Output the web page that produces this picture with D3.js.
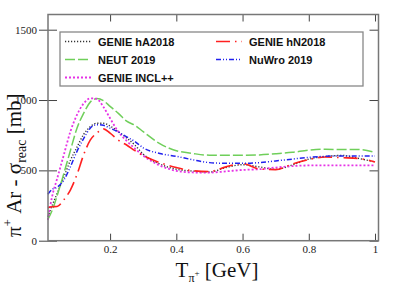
<!DOCTYPE html>
<html>
<head>
<meta charset="utf-8">
<script src="https://cdn.jsdelivr.net/npm/d3@7"></script>
<style>
  body { margin: 0; background: #fff; }
  svg { display: block; }
</style>
</head>
<body>
<div id="chart"></div>
<script>
// kinetic energy grid [GeV]
const energy = [0.012, 0.025, 0.04, 0.06, 0.08, 0.10, 0.12, 0.14, 0.16, 0.18, 0.20, 0.225, 0.25, 0.275, 0.30,
                0.35, 0.40, 0.45, 0.50, 0.55, 0.60, 0.65, 0.70, 0.75, 0.80, 0.85, 0.90, 0.95, 1.00];

const genieHA = [170, 250, 335, 450, 570, 665, 755, 810, 835, 835, 815, 775, 730, 680, 615,
                 545, 508, 495, 488, 520, 540, 525, 507, 538, 580, 598, 606, 585, 560];
const neut = [150, 215, 320, 475, 640, 800, 905, 985, 1010, 995, 955, 905, 850, 820, 775,
              690, 640, 620, 608, 608, 608, 610, 618, 628, 643, 650, 648, 648, 628];
const genieINCL = [147, 315, 440, 608, 775, 895, 975, 1012, 1008, 950, 870, 774, 710, 655, 605,
                   535, 497, 485, 484, 493, 503, 508, 520, 530, 535, 535, 535, 535, 535];
const genieHN = [235, 241, 243, 290, 360, 470, 610, 715, 765, 795, 765, 715, 680, 640, 605,
                 555, 520, 497, 492, 525, 548, 510, 505, 545, 577, 595, 590, 585, 560];
const nuwro = [330, 365, 380, 430, 525, 635, 725, 800, 825, 820, 800, 772, 738, 705, 660,
               620, 600, 575, 555, 550, 550, 555, 567, 580, 592, 600, 603, 603, 603];

const xTicks = [0.2, 0.4, 0.6, 0.8, 1];
const yTicks = [0, 500, 1000, 1500];

const series = [
  {name: "GENIE hA2018", y: genieHA, color: "#333", dash: "1.2,1.8", width: 1.4, col: 0, row: 0},
  {name: "NEUT 2019", y: neut, color: "#6fcf5a", dash: "10,3", width: 1.5, col: 0, row: 1},
  {name: "GENIE INCL++", y: genieINCL, color: "#e633e6", dash: "2,2", width: 1.8, col: 0, row: 2},
  {name: "GENIE hN2018", y: genieHN, color: "#ff2020", dash: "14,5,1.5,5", width: 1.6, col: 1, row: 0},
  {name: "NuWro 2019", y: nuwro, color: "#2020ee", dash: "5,2,1,2,1,2", width: 1.5, col: 1, row: 1}
];

const w = 399, h = 287;
const padL = 48, padR = 378.5, padT = 14.5, padB = 240.7;

const svg = d3.select("#chart").append("svg")
  .attr("width", w).attr("height", h);

const x = d3.scaleLinear().domain([0.0125, 1.0105]).range([padL, padR]);
const y = d3.scaleLinear().domain([0, 1608]).range([padB, padT]);

// curves
const line = d3.line()
  .x((d, i) => x(energy[i]))
  .y(d => y(d))
  .curve(d3.curveMonotoneX);

series.forEach(s => {
  svg.append("path")
    .datum(s.y)
    .attr("d", line)
    .attr("fill", "none")
    .attr("stroke", s.color)
    .attr("stroke-width", s.width)
    .attr("stroke-dasharray", s.dash);
});

// axes
const tickFont = "'Liberation Serif', 'DejaVu Serif', serif";
const xAxisB = d3.axisBottom(x).tickValues(xTicks).tickSize(-7).tickPadding(5)
  .tickFormat(d => d === 1 ? "1" : d3.format(".1f")(d));
const xAxisT = d3.axisTop(x).tickValues(xTicks).tickSize(-7).tickFormat("");
const yAxisL = d3.axisLeft(y).tickValues(yTicks).tickSize(9).tickPadding(2).tickFormat(d3.format("d"));
const yAxisR = d3.axisRight(y).tickValues(yTicks).tickSize(-9).tickFormat("");

const gB = svg.append("g").attr("transform", "translate(0," + padB + ")").call(xAxisB);
const gT = svg.append("g").attr("transform", "translate(0," + padT + ")").call(xAxisT);
const gL = svg.append("g").attr("transform", "translate(" + padL + ",0)").call(yAxisL);
const gR = svg.append("g").attr("transform", "translate(" + padR + ",0)").call(yAxisR);

[gB, gT, gL, gR].forEach(g => {
  g.attr("font-family", tickFont).attr("font-size", 11);
  g.select(".domain").remove();
  g.selectAll(".tick line").attr("stroke", "#444").attr("stroke-width", 1);
  g.selectAll(".tick text").attr("fill", "#222").style("font-family", tickFont);
});
// left ticks also reach inside the frame
gL.selectAll(".tick line").attr("x2", 9).attr("x1", -9);

svg.append("rect")
  .attr("x", padL).attr("y", padT)
  .attr("width", padR - padL).attr("height", padB - padT)
  .attr("fill", "none").attr("stroke", "#777").attr("stroke-width", 1.5);

// legend
const lg = svg.append("g");
lg.append("rect")
  .attr("x", 60).attr("y", 32).attr("width", 303).attr("height", 54)
  .attr("fill", "#fff").attr("stroke", "#888").attr("stroke-width", 1.3);

series.forEach(s => {
  const lx = s.col === 0 ? 65 : 216;
  const ly = 41.5 + s.row * 18;
  lg.append("line")
    .attr("x1", lx).attr("x2", lx + 26).attr("y1", ly).attr("y2", ly)
    .attr("stroke", s.color).attr("stroke-width", s.width)
    .attr("stroke-dasharray", s.dash);
  lg.append("text")
    .attr("x", lx + 33).attr("y", ly + 4)
    .attr("font-family", "'Liberation Sans', Arial, sans-serif")
    .attr("font-weight", "bold").attr("font-size", 11)
    .attr("fill", "#111")
    .text(s.name);
});

// axis titles
const xt = svg.append("text")
  .attr("x", 217).attr("y", 277)
  .attr("text-anchor", "middle")
  .attr("font-family", tickFont).attr("font-size", 21).attr("fill", "#111");
xt.append("tspan").text("T");
xt.append("tspan").attr("font-size", 12).attr("dy", 5).text("π");
xt.append("tspan").attr("font-size", 9).attr("dy", -6).text("+");
xt.append("tspan").attr("dy", 1).text(" [GeV]");

const yt = svg.append("text")
  .attr("transform", "translate(21,237) rotate(-90)")
  .attr("text-anchor", "start")
  .attr("font-family", tickFont).attr("font-size", 21).attr("fill", "#111");
yt.append("tspan").text("π");
yt.append("tspan").attr("font-size", 13).attr("dy", -9).text("+");
yt.append("tspan").attr("dy", 9).text(" Ar - σ");
yt.append("tspan").attr("font-size", 14).attr("dy", 5).text("reac");
yt.append("tspan").attr("dy", -5).text(" [mb]");
</script>
</body>
</html>
